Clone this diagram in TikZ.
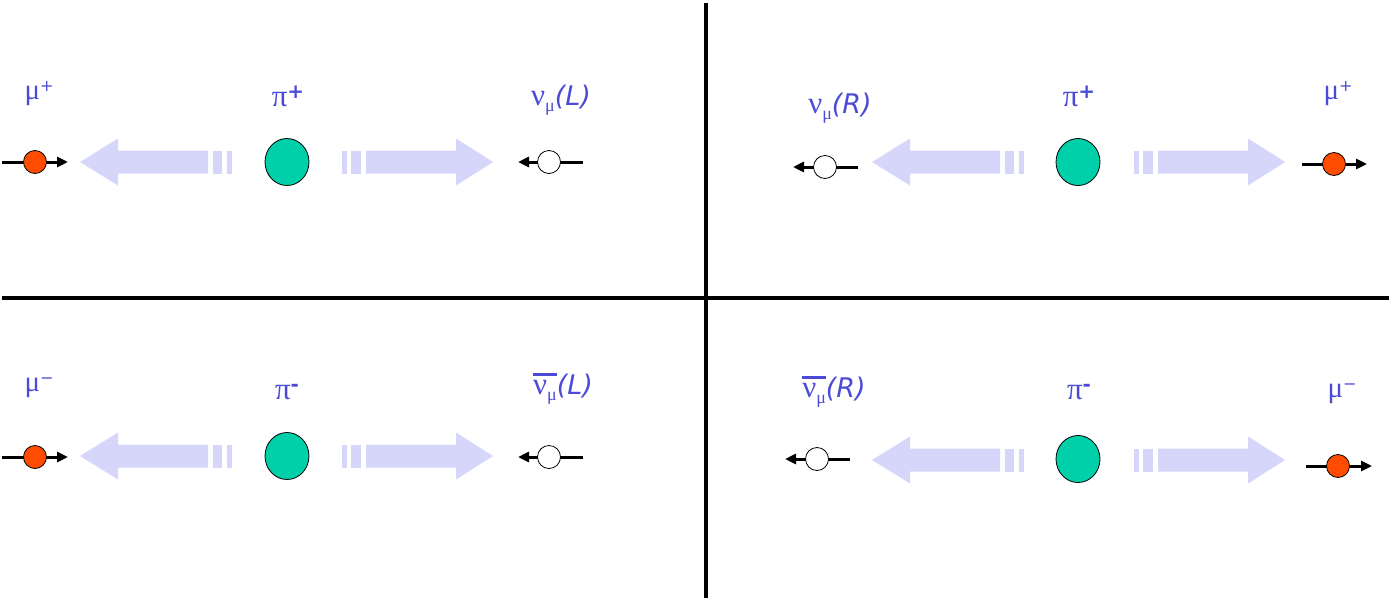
\documentclass[tikz,border=0pt]{standalone}
\usepackage{fontspec}
\setmainfont{DejaVu Sans}
\newfontfamily\gk{Liberation Serif}
\usetikzlibrary{arrows.meta,shapes.geometric}
\definecolor{labelblue}{RGB}{75,75,215}
\definecolor{flowfill}{RGB}{214,214,250}
\definecolor{pigreen}{RGB}{0,208,170}
\definecolor{mured}{RGB}{255,76,0}
\newcommand\gmu{{\gk\fontsize{29}{30}\selectfont μ}}
\newcommand\gpi{{\gk\fontsize{31}{32}\selectfont π}}
\newcommand\gnu{{\gk\fontsize{31}{32}\selectfont ν}}
\newcommand\nusub{\gnu\raisebox{-6pt}{\gk\fontsize{18}{19}\selectfont μ}}
\newcommand\ovlbox[1]{\leavevmode\vbox{\hrule height 2.5pt\kern 4pt\hbox{#1}}}
\newcommand\supp[1]{\raisebox{8pt}{\fontsize{16}{17}\selectfont #1}}
\newcommand\supbig[1]{\raisebox{8pt}{\fontsize{20}{21}\selectfont\bfseries #1}}
\tikzset{
  lbl/.style={text=labelblue, anchor=base, inner sep=0pt, font=\fontsize{27}{30}\selectfont},
  quadline/.style={line width=3.5pt, black},
  spinline/.style={line width=3pt, black, -{Triangle[length=11pt,width=10pt]}},
  mudot/.style={circle, draw=black, line width=0.8pt, fill=mured, minimum size=23pt, inner sep=0pt},
  nudot/.style={circle, draw=black, line width=0.8pt, fill=white, minimum size=23pt, inner sep=0pt},
  pidot/.style={ellipse, draw=black, line width=0.8pt, fill=pigreen, minimum width=44pt, minimum height=47pt, inner sep=0pt},
  flowshape/.style={fill=flowfill, draw=none},
  leftflow/.pic={
    \fill[flowshape] (0,0) -- (38,-23.5) -- (38,-11.5) -- (128,-11.5) -- (128,11.5) -- (38,11.5) -- (38,23.5) -- cycle;
    \fill[flowshape] (133,-11.5) rectangle (142,11.5);
    \fill[flowshape] (147,-11.5) rectangle (152,11.5);
  },
  rightflow/.pic={
    \fill[flowshape] (0,0) -- (-37,-23.5) -- (-37,-11.5) -- (-127,-11.5) -- (-127,11.5) -- (-37,11.5) -- (-37,23.5) -- cycle;
    \fill[flowshape] (-132,-11.5) rectangle (-142,11.5);
    \fill[flowshape] (-146,-11.5) rectangle (-151,11.5);
  }
}
\begin{document}
\begin{tikzpicture}[x=1pt,y=-1pt]
\useasboundingbox (0,0) rectangle (1389,600);
% quadrant lines
\coordinate (vtop) at (706,3);
\coordinate (vbot) at (706,598);
\coordinate (hl) at (2,298);
\coordinate (hr) at (1389,298);
\draw[quadline] (vtop) -- (vbot);
\draw[quadline] (hl) -- (hr);

% ---------- top-left ----------
\pic at (80,162) {leftflow};
\pic at (493,162) {rightflow};
\coordinate (tlmuA) at (2,162); \coordinate (tlmuB) at (68,162);
\draw[spinline] (tlmuA) -- (tlmuB);
\node[mudot] (tlmu) at (35,162) {};
\node[pidot] (tlpi) at (287,162) {};
\coordinate (tlnuA) at (583,162); \coordinate (tlnuB) at (518,162);
\draw[spinline] (tlnuA) -- (tlnuB);
\node[nudot] (tlnu) at (549,162) {};
\node[lbl] (tlmulbl) at (39,99) {\gmu\supp{+}};
\node[lbl] (tlpilbl) at (288,106) {\gpi\supbig{+}};
\node[lbl] (tlnulbl) at (561,105) {\nusub\textit{(L)}};

% ---------- top-right ----------
\pic at (872,162) {leftflow};
\pic at (1285,162) {rightflow};
\coordinate (trnuA) at (858,167); \coordinate (trnuB) at (793,167);
\draw[spinline] (trnuA) -- (trnuB);
\node[nudot] (trnu) at (825,167) {};
\node[pidot] (trpi) at (1078,162) {};
\coordinate (trmuA) at (1302,164); \coordinate (trmuB) at (1367,164);
\draw[spinline] (trmuA) -- (trmuB);
\node[mudot] (trmu) at (1334,164) {};
\node[lbl] (trnulbl) at (840,113) {\nusub\textit{(R)}};
\node[lbl] (trpilbl) at (1079,106) {\gpi\supbig{+}};
\node[lbl] (trmulbl) at (1338,99) {\gmu\supp{+}};

% ---------- bottom-left ----------
\pic at (80,456) {leftflow};
\pic at (493,456) {rightflow};
\coordinate (blmuA) at (2,457); \coordinate (blmuB) at (68,457);
\draw[spinline] (blmuA) -- (blmuB);
\node[mudot] (blmu) at (35,457) {};
\node[pidot] (blpi) at (287,456) {};
\coordinate (blnuA) at (583,457); \coordinate (blnuB) at (518,457);
\draw[spinline] (blnuA) -- (blnuB);
\node[nudot] (blnu) at (549,457) {};
\node[lbl] (blmulbl) at (39,391) {\gmu\supp{−}};
\node[lbl] (blpilbl) at (287,399) {\gpi\supbig{-}};
\node[lbl] (blnulbl) at (563,394) {\ovlbox{\nusub}\textit{(L)}};

% ---------- bottom-right ----------
\pic at (872,460) {leftflow};
\pic at (1285,460) {rightflow};
\coordinate (brnuA) at (850,459); \coordinate (brnuB) at (785,459);
\draw[spinline] (brnuA) -- (brnuB);
\node[nudot] (brnu) at (817,459) {};
\node[pidot] (brpi) at (1078,459) {};
\coordinate (brmuA) at (1306,466); \coordinate (brmuB) at (1372,466);
\draw[spinline] (brmuA) -- (brmuB);
\node[mudot] (brmu) at (1338,466) {};
\node[lbl] (brnulbl) at (834,397) {\ovlbox{\nusub}\textit{(R)}};
\node[lbl] (brpilbl) at (1079,399) {\gpi\supbig{-}};
\node[lbl] (brmulbl) at (1342,397) {\gmu\supp{−}};
\end{tikzpicture}
\end{document}
